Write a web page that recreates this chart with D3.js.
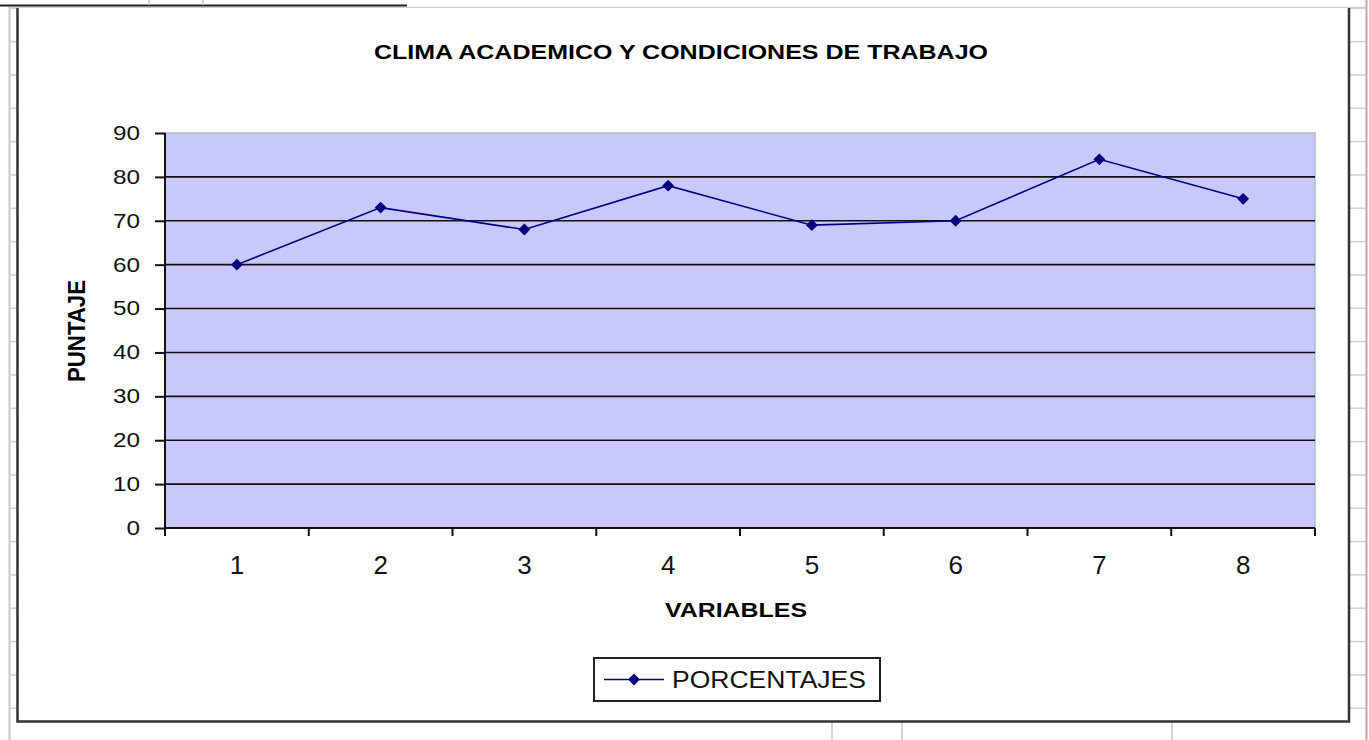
<!DOCTYPE html>
<html>
<head>
<meta charset="utf-8">
<script src="https://cdn.jsdelivr.net/npm/d3@7"></script>
<style>
  html, body { margin: 0; padding: 0; background: #ffffff; }
  svg { display: block; font-family: "Liberation Sans", Arial, sans-serif; }
</style>
</head>
<body>
<svg id="chart" width="1369" height="740"></svg>
<script>
// ---- data ----
const categories = ["1", "2", "3", "4", "5", "6", "7", "8"];
const values = [60, 73, 68, 78, 69, 70, 84, 75];
const yTicks = [0, 10, 20, 30, 40, 50, 60, 70, 80, 90];
const seriesName = "PORCENTAJES";
const titleText = "CLIMA ACADEMICO Y CONDICIONES DE TRABAJO";
const xTitle = "VARIABLES";
const yTitle = "PUNTAJE";

const svg = d3.select("#chart");
const W = 1369, H = 740;

// ---- spreadsheet background decoration ----
const deco = svg.append("g");
const rowH = 33.33;
// left sheet gridlines
deco.append("line").attr("x1", 9.5).attr("x2", 9.5).attr("y1", 8).attr("y2", H).attr("stroke", "#c8c8c8").attr("stroke-width", 2);
for (let y = 8.3; y < H; y += rowH) {
  deco.append("line").attr("x1", 9).attr("x2", 17).attr("y1", y).attr("y2", y).attr("stroke", "#d0d0d0").attr("stroke-width", 1.5);
  deco.append("line").attr("x1", 1349).attr("x2", 1366).attr("y1", y).attr("y2", y).attr("stroke", "#d0d0d0").attr("stroke-width", 1.5);
}
deco.append("line").attr("x1", 1366.5).attr("x2", 1366.5).attr("y1", 0).attr("y2", H).attr("stroke", "#d89a9a").attr("stroke-width", 2);
// top
deco.append("line").attr("x1", 8).attr("x2", 1366).attr("y1", 7.5).attr("y2", 7.5).attr("stroke", "#d0d0d0").attr("stroke-width", 1.5);
deco.append("line").attr("x1", 0).attr("x2", 407).attr("y1", 5.5).attr("y2", 5.5).attr("stroke", "#222").attr("stroke-width", 2);
[149, 203].forEach(x => deco.append("line").attr("x1", x).attr("x2", x).attr("y1", 0).attr("y2", 5).attr("stroke", "#c8c8c8").attr("stroke-width", 1.5));
// bottom
[832, 902, 1172].forEach(x => deco.append("line").attr("x1", x).attr("x2", x).attr("y1", 722).attr("y2", H).attr("stroke", "#c8c8c8").attr("stroke-width", 1.5));

// chart area border
deco.append("path")
  .attr("d", "M17.5,8 L17.5,721.5 L1349,721.5 L1349,8")
  .attr("fill", "#ffffff").attr("stroke", "#333").attr("stroke-width", 2.5);

// ---- plot ----
const plot = { left: 165, right: 1315, top: 133, bottom: 528 };

const x = d3.scaleBand().domain(categories).range([plot.left, plot.right]).padding(0);
const y = d3.scaleLinear().domain([0, 90]).range([plot.bottom, plot.top]);

svg.append("rect")
  .attr("x", plot.left).attr("y", plot.top)
  .attr("width", plot.right - plot.left).attr("height", plot.bottom - plot.top)
  .attr("fill", "#c8c8fc").attr("stroke", "#b8b8c8").attr("stroke-width", 1.5);

// gridlines
svg.append("g").selectAll("line")
  .data(yTicks.filter(d => d > 0 && d < 90))
  .join("line")
  .attr("x1", plot.left).attr("x2", plot.right)
  .attr("y1", d => y(d)).attr("y2", d => y(d))
  .attr("stroke", "#111").attr("stroke-width", 1.6);

// y axis
const yAxis = svg.append("g")
  .attr("transform", `translate(${plot.left},0)`)
  .call(d3.axisLeft(y).tickValues(yTicks).tickSize(10).tickPadding(15));
yAxis.select(".domain").attr("stroke", "#111").attr("stroke-width", 2).attr("d", `M0,${plot.top}V${plot.bottom + 8}`);
yAxis.selectAll(".tick line").attr("stroke", "#111").attr("stroke-width", 2);
yAxis.selectAll(".tick text")
  .attr("font-size", 20).attr("fill", "#111")
  .attr("font-family", "'Liberation Sans', Arial, sans-serif")
  .attr("textLength", d => String(d).length * 13.5)
  .attr("lengthAdjust", "spacingAndGlyphs");

// x axis with ticks at category boundaries
const xAxis = svg.append("g")
  .attr("transform", `translate(0,${plot.bottom})`)
  .call(d3.axisBottom(x).tickSize(0).tickPadding(28));
xAxis.select(".domain").attr("stroke", "#111").attr("stroke-width", 2).attr("d", `M${plot.left},0H${plot.right}`);
xAxis.selectAll(".tick text")
  .attr("font-size", 26).attr("fill", "#111")
  .attr("font-family", "'Liberation Sans', Arial, sans-serif");
const bounds = categories.map(c => x(c)).concat([plot.right]);
xAxis.append("g").selectAll("line").data(bounds).join("line")
  .attr("x1", d => d).attr("x2", d => d).attr("y1", 0).attr("y2", 8)
  .attr("stroke", "#111").attr("stroke-width", 2);

// line series
const cx = (d, i) => x(categories[i]) + x.bandwidth() / 2;
const line = d3.line().x((d, i) => cx(d, i)).y(d => y(d));
svg.append("path").datum(values)
  .attr("d", line).attr("fill", "none")
  .attr("stroke", "#000080").attr("stroke-width", 1.6);

const diamond = d3.symbol().type(d3.symbolDiamond2).size(90);
svg.append("g").selectAll("path").data(values).join("path")
  .attr("d", diamond)
  .attr("transform", (d, i) => `translate(${cx(d, i)},${y(d)})`)
  .attr("fill", "#000080");

// ---- titles ----
svg.append("text").attr("x", 681).attr("y", 58.5)
  .attr("text-anchor", "middle").attr("font-weight", "bold").attr("font-size", 19.5)
  .attr("fill", "#000")
  .attr("textLength", 614).attr("lengthAdjust", "spacingAndGlyphs")
  .text(titleText);

svg.append("text").attr("x", 736).attr("y", 617)
  .attr("text-anchor", "middle").attr("font-weight", "bold").attr("font-size", 21)
  .attr("fill", "#000")
  .attr("textLength", 142).attr("lengthAdjust", "spacingAndGlyphs")
  .text(xTitle);

svg.append("text")
  .attr("transform", "translate(85,331) rotate(-90)")
  .attr("text-anchor", "middle").attr("font-weight", "bold").attr("font-size", 23)
  .attr("fill", "#000")
  .attr("textLength", 102).attr("lengthAdjust", "spacingAndGlyphs")
  .text(yTitle);

// ---- legend ----
const lg = svg.append("g");
lg.append("rect").attr("x", 594).attr("y", 658).attr("width", 286).attr("height", 43)
  .attr("fill", "#fff").attr("stroke", "#222").attr("stroke-width", 2);
lg.append("line").attr("x1", 604).attr("x2", 664).attr("y1", 679.5).attr("y2", 679.5)
  .attr("stroke", "#000080").attr("stroke-width", 1.6);
lg.append("path").attr("d", diamond).attr("transform", "translate(634,679.5)").attr("fill", "#000080");
lg.append("text").attr("x", 672).attr("y", 688)
  .attr("font-size", 24).attr("fill", "#111")
  .attr("textLength", 194).attr("lengthAdjust", "spacingAndGlyphs")
  .text(seriesName);
</script>
</body>
</html>
